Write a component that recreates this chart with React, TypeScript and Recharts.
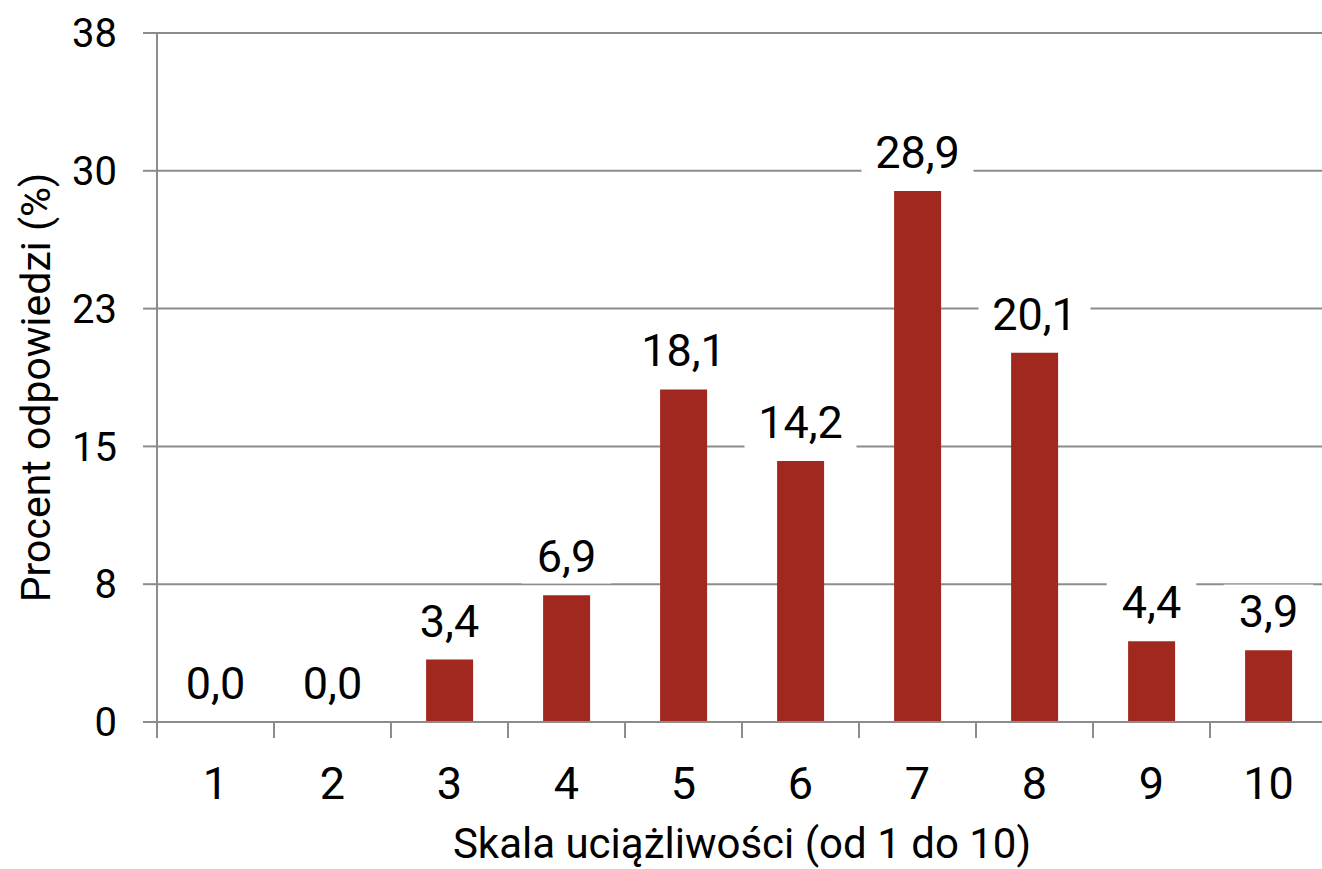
import { Bar, CartesianGrid, ComposedChart, LabelList, Line, XAxis, YAxis } from "recharts";

const categories = ["1", "2", "3", "4", "5", "6", "7", "8", "9", "10"];
const percents = [0.0, 0.0, 3.4, 6.9, 18.1, 14.2, 28.9, 20.1, 4.4, 3.9];
const yTicks = [0, 7.5, 15, 22.5, 30, 37.5];

const data = categories.map((cat, i) => ({ cat, value: percents[i] }));

const GRID = "#8c8c8c";
const BAR = "#a1281f";
const X_TICK_SIZE = 16;
const X_TICK_MARGIN = 29;

const fmt = (v: number) => v.toFixed(1).replace(".", ",");

// category labels with tick marks on the band boundaries (Excel style)
function XTick(props: any) {
  const { x, y, payload, index, visibleTicksCount, width } = props;
  const half =
    payload && payload.offset > 0 ? payload.offset : width / visibleTicksCount / 2;
  const axisY = y - X_TICK_SIZE - X_TICK_MARGIN;
  return (
    <g>
      <line x1={x - half} x2={x - half} y1={axisY} y2={axisY + X_TICK_SIZE} stroke={GRID} strokeWidth={2} />
      {index === visibleTicksCount - 1 && (
        <line x1={x + half} x2={x + half} y1={axisY} y2={axisY + X_TICK_SIZE} stroke={GRID} strokeWidth={2} />
      )}
      <text x={x} y={y} dy="0.71em" textAnchor="middle" fontSize={45} fill="#000">
        {payload.value}
      </text>
    </g>
  );
}

// value label with a white box that hides the gridline behind it
function ValueLabel(props: any) {
  const { x, y, width, value } = props;
  const fs = 45;
  const cx = x + (width || 0) / 2;
  const base = y - 23;
  const text = fmt(Number(value));
  const w = text.length * fs * 0.5 + 22;
  return (
    <g>
      <rect x={cx - w / 2} y={base - fs * 0.95} width={w} height={fs * 1.2} fill="#fff" />
      <text x={cx} y={base} textAnchor="middle" fontSize={fs} fill="#000">
        {text}
      </text>
    </g>
  );
}

function YTitle(props: any) {
  const { viewBox } = props;
  const cy = viewBox.y + viewBox.height / 2 + 10;
  return (
    <text x={50} y={cy} transform={`rotate(-90, 50, ${cy})`} textAnchor="middle" fontSize={41} fill="#000">
      Procent odpowiedzi (%)
    </text>
  );
}

function XTitle(props: any) {
  const { viewBox } = props;
  const cx = viewBox.x + viewBox.width / 2;
  return (
    <text x={cx} y={858} textAnchor="middle" fontSize={42} fill="#000">
      Skala uciążliwości (od 1 do 10)
    </text>
  );
}

export default function App() {
  return (
    <div
      style={{
        position: "absolute",
        left: 0,
        top: 0,
        width: 1322,
        height: 869,
        overflow: "hidden",
        background: "#fff",
        fontFamily: "Roboto, sans-serif",
      }}
    >
      <ComposedChart
        width={1327}
        height={869}
        data={data}
        margin={{ top: 33, right: 0, bottom: 0, left: 0 }}
        barCategoryGap="30%"
      >
        <CartesianGrid vertical={false} stroke={GRID} strokeWidth={2} />
        <XAxis
          dataKey="cat"
          height={147}
          stroke={GRID}
          strokeWidth={2}
          tickLine={false}
          tickSize={X_TICK_SIZE}
          tickMargin={X_TICK_MARGIN}
          tick={<XTick />}
          interval={0}
          label={<XTitle />}
        />
        <YAxis
          width={157}
          domain={[0, 37.5]}
          ticks={yTicks}
          tickFormatter={(v: number) => String(Math.round(v))}
          stroke={GRID}
          strokeWidth={2}
          tickSize={14}
          tickMargin={26}
          tick={{ fontSize: 40, fill: "#000" }}
          label={<YTitle />}
        />
        <Bar dataKey="value" fill={BAR} isAnimationActive={false} />
        <Line
          dataKey="value"
          stroke="none"
          dot={false}
          activeDot={false}
          legendType="none"
          isAnimationActive={false}
        >
          <LabelList dataKey="value" content={<ValueLabel />} />
        </Line>
      </ComposedChart>
    </div>
  );
}
